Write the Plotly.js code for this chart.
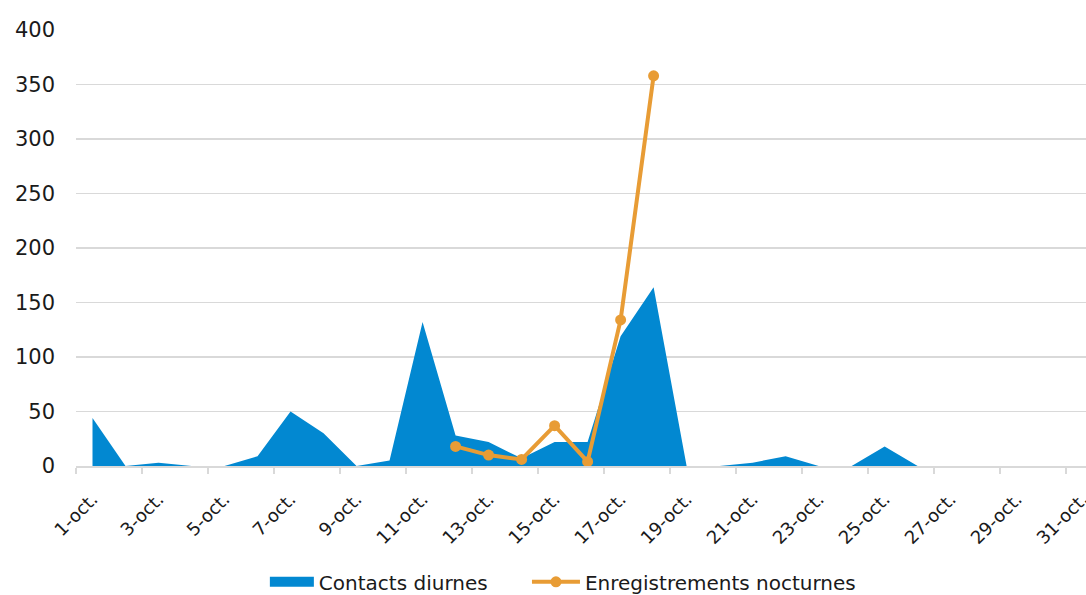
<!DOCTYPE html>
<html>
<head>
<meta charset="utf-8">
<script src="https://cdn.plot.ly/plotly-3.0.1.min.js"></script>
<style>html,body{margin:0;padding:0;background:#fff;overflow:hidden}#chart{width:1086px;height:595px}</style>
</head>
<body>
<div id="chart"></div>
<script>
var categories = ["1-oct.","2-oct.","3-oct.","4-oct.","5-oct.","6-oct.","7-oct.","8-oct.","9-oct.","10-oct.",
  "11-oct.","12-oct.","13-oct.","14-oct.","15-oct.","16-oct.","17-oct.","18-oct.","19-oct.","20-oct.",
  "21-oct.","22-oct.","23-oct.","24-oct.","25-oct.","26-oct.","27-oct.","28-oct.","29-oct.","30-oct.","31-oct."];
var contactsDiurnes = [44,0,3,0,0,9,50,30,0,5,
  132,28,22,7,22,22,119,164,0,0,
  3,9,0,0,18,0,0,0,0,0,0];
var nocturnesDates = ["12-oct.","13-oct.","14-oct.","15-oct.","16-oct.","17-oct.","18-oct."];
var enregistrementsNocturnes = [18,10,6,37,4,134,358];
var yTicks = [0,50,100,150,200,250,300,350,400];

var fontFam = "'DejaVu Sans', sans-serif";
var textColor = "#1a1a1a";
var gridColor = "#d9d9d9";
var blue = "#0288D1";
var orange = "#E89C35";

var traces = [
  {
    type: "scatter", mode: "lines", name: "Contacts diurnes",
    x: categories, y: contactsDiurnes,
    fill: "tozeroy", fillcolor: blue,
    line: {color: blue, width: 0},
    showlegend: false,
    hoverinfo: "x+y"
  },
  {
    /* legend-only proxy giving the area series a thick box-like key */
    type: "scatter", mode: "lines", name: "Contacts diurnes",
    x: [null], y: [null],
    line: {color: blue, width: 12},
    legend: "legend", showlegend: true,
    hoverinfo: "skip"
  },
  {
    type: "scatter", mode: "lines+markers", name: "Enregistrements nocturnes",
    x: nocturnesDates, y: enregistrementsNocturnes,
    line: {color: orange, width: 4},
    marker: {color: orange, size: 11},
    legend: "legend2",
    hoverinfo: "x+y"
  }
];

var legendFont = {family: fontFam, size: 20, color: textColor};
var layout = {
  width: 1086, height: 595,
  margin: {l: 76, r: 0, t: 30, b: 129, autoexpand: false},
  paper_bgcolor: "#fff", plot_bgcolor: "#fff",
  font: {family: fontFam, color: textColor, size: 18},
  showlegend: true,
  legend: {
    orientation: "h", x: 0.187, xanchor: "left", y: -0.221, yanchor: "top",
    font: legendFont, itemwidth: 44
  },
  legend2: {
    orientation: "h", x: 0.4465, xanchor: "left", y: -0.221, yanchor: "top",
    font: legendFont, itemwidth: 48
  },
  xaxis: {
    type: "category",
    categoryorder: "array", categoryarray: categories,
    range: [-0.5, 30.1],
    tickmode: "linear", tick0: 0, dtick: 2,
    tickson: "boundaries",
    ticks: "outside", ticklen: 6, tickcolor: gridColor, tickwidth: 1.5,
    showgrid: false, zeroline: false,
    showline: true, linecolor: gridColor, linewidth: 1.5,
    tickangle: -45, ticklabelstandoff: 14,
    tickfont: {family: fontFam, size: 18, color: textColor},
    fixedrange: true
  },
  yaxis: {
    range: [0, 400],
    tickmode: "array", tickvals: yTicks, ticktext: yTicks.map(String),
    showgrid: true, gridcolor: gridColor, gridwidth: 1.5,
    zeroline: false, showline: false,
    ticks: "", ticklabelstandoff: 20,
    tickfont: {family: fontFam, size: 21, color: textColor},
    fixedrange: true
  }
};

Plotly.newPlot("chart", traces, layout, {displayModeBar: false, staticPlot: true});
</script>
</body>
</html>
